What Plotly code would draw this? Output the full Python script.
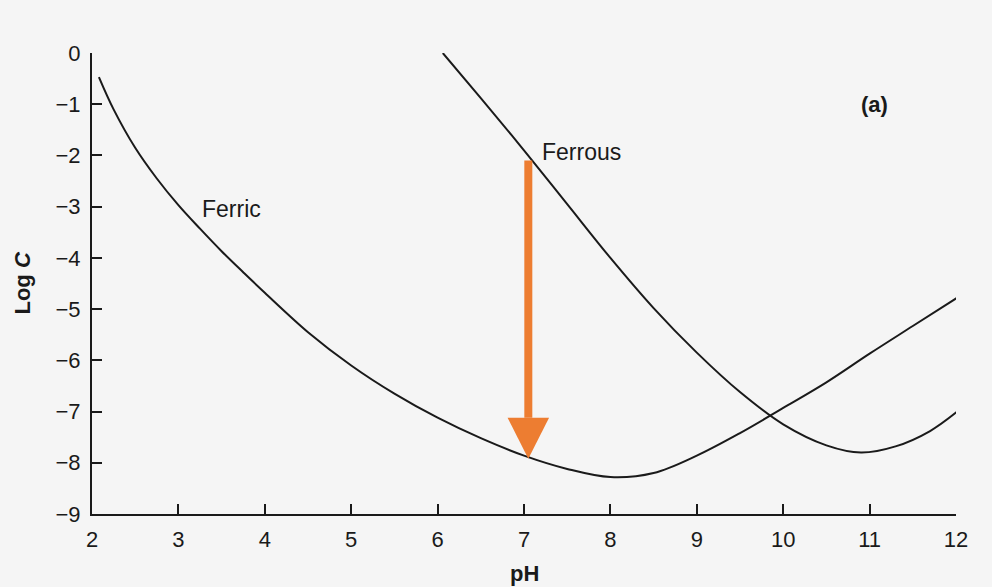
import plotly.graph_objects as go

# Ferric (Fe3+) solubility curve
ferric_ph = [2.08, 2.25, 2.5, 2.75, 3.0, 3.25, 3.5, 3.75, 4.0, 4.5, 5.0, 5.5, 6.0, 6.5,
             7.0, 7.5, 8.0, 8.5, 9.0, 9.5, 10.0, 10.5, 11.0, 11.5, 12.03]
ferric_logc = [-0.47, -1.1, -1.85, -2.45, -2.97, -3.43, -3.87, -4.28, -4.68, -5.45, -6.1,
               -6.65, -7.12, -7.52, -7.86, -8.12, -8.28, -8.2, -7.86, -7.42, -6.93, -6.43,
               -5.87, -5.33, -4.76]

# Ferrous (Fe2+) solubility curve
ferrous_ph = [6.06, 6.5, 7.0, 7.5, 8.0, 8.5, 9.0, 9.5, 10.0, 10.5, 10.9, 11.3, 11.7, 12.03]
ferrous_logc = [0.0, -0.88, -1.9, -2.95, -4.0, -4.98, -5.85, -6.62, -7.25, -7.66, -7.8,
                -7.68, -7.38, -6.98]

x_ticks = [2, 3, 4, 5, 6, 7, 8, 9, 10, 11, 12]
y_ticks = [0, -1, -2, -3, -4, -5, -6, -7, -8, -9]
y_ticklabels = ["0"] + ["\u2212" + str(-v) for v in y_ticks[1:]]

# arrow at pH 7
arrow_ph = 7.05
arrow_top = -2.1
arrow_tip = -7.92
head_len = 0.8
head_half = 0.24

FONT = "Liberation Sans, Arial, Helvetica, sans-serif"
INK = "#1a1a1a"

fig = go.Figure()
fig.add_trace(go.Scatter(x=ferric_ph, y=ferric_logc, mode="lines",
                         line=dict(color=INK, width=2, shape="spline", smoothing=1.0),
                         cliponaxis=False, hoverinfo="skip"))
fig.add_trace(go.Scatter(x=ferrous_ph, y=ferrous_logc, mode="lines",
                         line=dict(color=INK, width=2, shape="spline", smoothing=1.0),
                         cliponaxis=False, hoverinfo="skip"))

# orange arrow: shaft + head
fig.add_shape(type="line", xref="x", yref="y", x0=arrow_ph, x1=arrow_ph,
              y0=arrow_top, y1=arrow_tip + head_len, line=dict(color="#ED7D31", width=8))
fig.add_shape(type="path", xref="x", yref="y",
              path=f"M {arrow_ph - head_half} {arrow_tip + head_len} L {arrow_ph + head_half} {arrow_tip + head_len} L {arrow_ph} {arrow_tip} Z",
              fillcolor="#ED7D31", line=dict(color="#ED7D31", width=0))

fig.add_annotation(x=3.25, y=-3.04, text="Ferric", showarrow=False, xanchor="left",
                   font=dict(size=23, color=INK, family=FONT))
fig.add_annotation(x=7.19, y=-1.94, text="Ferrous", showarrow=False, xanchor="left",
                   font=dict(size=23, color=INK, family=FONT))
fig.add_annotation(x=11.06, y=-1.0, text="<b>(a)</b>", showarrow=False,
                   font=dict(size=22, color=INK, family=FONT))
fig.add_annotation(xref="paper", yref="paper", x=-0.081, y=0.5, text="<b>Log <i>C</i></b>",
                   textangle=-90, showarrow=False, xanchor="center", yanchor="middle",
                   font=dict(size=22, color=INK, family=FONT))
fig.add_annotation(xref="x", yref="paper", x=7, y=-0.13, text="<b>pH</b>", showarrow=False,
                   xanchor="center", yanchor="middle", font=dict(size=22, color=INK, family=FONT))

fig.update_layout(
    width=992, height=587,
    margin=dict(l=92, r=36, t=53, b=73),
    paper_bgcolor="#f5f5f5", plot_bgcolor="#f5f5f5",
    showlegend=False,
    font=dict(family=FONT, size=22, color=INK),
    xaxis=dict(range=[2, 12], tickvals=x_ticks, ticks="inside", ticklen=10, tickwidth=2,
               tickcolor=INK, showline=True, linecolor=INK, linewidth=2,
               showgrid=False, zeroline=False, ticklabelstandoff=5,
               tickfont=dict(size=22, family=FONT, color=INK)),
    yaxis=dict(range=[-9, 0], tickvals=y_ticks, ticktext=y_ticklabels, ticks="inside",
               ticklen=10, tickwidth=2, tickcolor=INK, showline=True,
               linecolor=INK, linewidth=2, showgrid=False, zeroline=False,
               ticklabelstandoff=5, tickfont=dict(size=22, family=FONT, color=INK)),
)

fig.write_html("out.html", config={"displayModeBar": False},
               post_script="document.body.style.margin='0';document.body.style.background='#f5f5f5';")
